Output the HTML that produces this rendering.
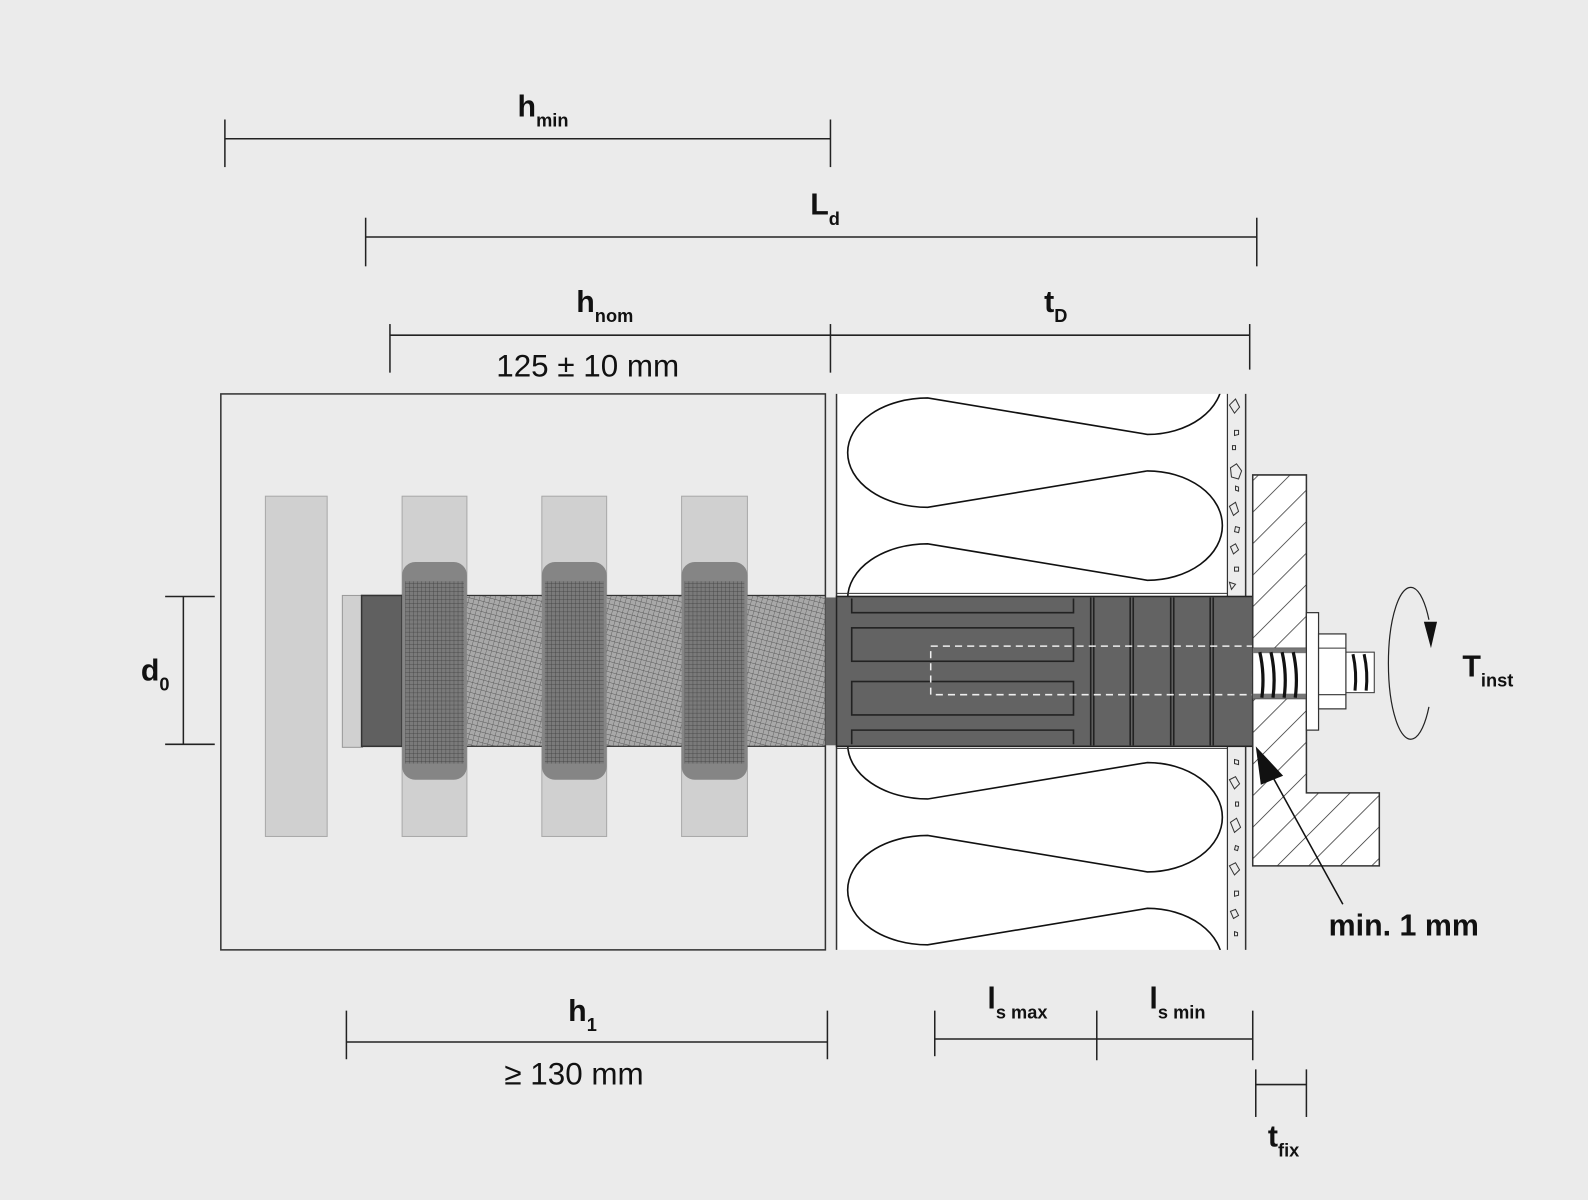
<!DOCTYPE html>
<html><head><meta charset="utf-8"><style>
html,body{margin:0;padding:0;background:#ebebeb;}
svg{display:block;}
text{font-family:"Liberation Sans Narrow","Liberation Sans",sans-serif;font-weight:bold;fill:#111;}
</style></head><body>
<svg width="1588" height="1200" viewBox="0 0 1568 1185" xmlns="http://www.w3.org/2000/svg">
<defs>
<pattern id="mesh" width="5" height="5" patternUnits="userSpaceOnUse" patternTransform="rotate(15)">
<rect width="5" height="5" fill="#a8a8a8"/><path d="M0 0H5M0 0V5" stroke="#555" stroke-width="0.8"/></pattern>
<pattern id="mesh2" width="4" height="4" patternUnits="userSpaceOnUse">
<rect width="4" height="4" fill="#7a7a7a"/><path d="M0 0H4M0 0V4" stroke="#3a3a3a" stroke-width="0.7"/></pattern>
<pattern id="hatch" width="22" height="22" patternUnits="userSpaceOnUse" patternTransform="rotate(45)">
<rect width="22" height="22" fill="#fff"/><path d="M0 0V22" stroke="#222" stroke-width="1.4"/></pattern>
<clipPath id="ins"><rect x="826" y="389" width="386" height="549"/></clipPath>
</defs>
<rect width="1568" height="1185" fill="#ebebeb"/>

<!-- concrete block -->
<rect x="218" y="389" width="597" height="549" fill="#ebebeb" stroke="#333" stroke-width="1.5"/>
<!-- insulation -->
<rect x="826" y="389" width="386" height="549" fill="#fff"/>
<line x1="826" y1="389" x2="826" y2="938" stroke="#333" stroke-width="1.5"/>
<g clip-path="url(#ins)" fill="none" stroke="#111" stroke-width="1.6">
<path d="M1133 321 A74 54 0 0 1 1133 429 L916 393 A79 54 0 0 0 916 501 L1133 465 A74 54 0 0 1 1133 573
L916 537 A79 54 0 0 0 916 645 L1133 609 A74 54 0 0 1 1133 717
L916 681 A79 54 0 0 0 916 789 L1133 753 A74 54 0 0 1 1133 861
L916 825 A79 54 0 0 0 916 933 L1133 897 A74 54 0 0 1 1133 1005"/>
</g>
<!-- plaster -->
<rect x="1212" y="389" width="18" height="549" fill="#ececec"/>
<line x1="1212" y1="389" x2="1212" y2="938" stroke="#333" stroke-width="1.2"/>
<line x1="1230" y1="389" x2="1230" y2="938" stroke="#333" stroke-width="1.5"/>
<g fill="none" stroke="#333" stroke-width="1">
<path d="M1214 400l6-6 4 8-5 6z"/><path d="M1219 425l4 0 0 4-4 1z"/><path d="M1217 440l3 0 0 4-3 0z"/>
<path d="M1215 462l6-4 5 7-3 8-7-2z"/><path d="M1220 480l3 1 0 4-3-1z"/><path d="M1214 500l6-4 3 9-5 4z"/>
<path d="M1220 520l4 1-1 5-4-1z"/><path d="M1215 540l5-3 3 6-5 4z"/><path d="M1219 560l4 0 0 4-4 0z"/>
<path d="M1214 575l6 2-4 5z"/>
<path d="M1219 750l4 1 0 4-4-1z"/><path d="M1214 770l6-3 4 7-5 5z"/><path d="M1220 792l3 0 0 4-3 0z"/>
<path d="M1215 812l6-4 4 9-6 5z"/><path d="M1220 835l3 1-1 4-3-1z"/><path d="M1214 855l6-3 4 7-5 5z"/>
<path d="M1219 880l4 0 0 4-4 1z"/><path d="M1215 900l5-2 3 6-5 3z"/><path d="M1219 920l3 1 0 3-3 0z"/>
</g>

<!-- rebars -->
<g fill="#d0d0d0" stroke="#a8a8a8" stroke-width="1">
<rect x="262" y="490" width="61" height="336"/>
<rect x="397" y="490" width="64" height="336"/>
<rect x="535" y="490" width="64" height="336"/>
<rect x="673" y="490" width="65" height="336"/>
</g>
<!-- hole, plug -->
<rect x="338" y="588" width="20" height="150" fill="#d0d0d0" stroke="#999"/>
<rect x="357" y="588" width="40" height="149" fill="#606060" stroke="#333" stroke-width="1.5"/>
<rect x="397" y="588" width="418" height="149" fill="url(#mesh)" stroke="#333" stroke-width="1.2"/>
<!-- bands -->
<g>
<rect x="397" y="555" width="64" height="215" rx="13" fill="#858585"/>
<rect x="400" y="574" width="58" height="180" fill="url(#mesh2)"/>
<rect x="535" y="555" width="64" height="215" rx="13" fill="#858585"/>
<rect x="538" y="574" width="58" height="180" fill="url(#mesh2)"/>
<rect x="673" y="555" width="65" height="215" rx="13" fill="#858585"/>
<rect x="676" y="574" width="59" height="180" fill="url(#mesh2)"/>
</g>
<rect x="815" y="590" width="11" height="146" fill="#636363"/>

<!-- sleeve in insulation -->
<line x1="826" y1="586" x2="1212" y2="586" stroke="#333"/>
<line x1="826" y1="739" x2="1212" y2="739" stroke="#333"/>
<rect x="826" y="589" width="411" height="148" fill="#636363" stroke="#222" stroke-width="1.5"/>
<g fill="none" stroke="#222" stroke-width="1.6">
<path d="M841 591V605H1060V591"/><rect x="841" y="620" width="219" height="33"/>
<rect x="841" y="673" width="219" height="33"/><path d="M841 735V721H1060V735"/>
<line x1="1077" y1="590" x2="1077" y2="736"/><line x1="1080" y1="590" x2="1080" y2="736"/>
<line x1="1116" y1="590" x2="1116" y2="736"/><line x1="1119" y1="590" x2="1119" y2="736"/>
<line x1="1156" y1="590" x2="1156" y2="736"/><line x1="1159" y1="590" x2="1159" y2="736"/>
<line x1="1195" y1="590" x2="1195" y2="736"/><line x1="1198" y1="590" x2="1198" y2="736"/>
</g>
<rect x="919" y="638" width="318" height="48" fill="none" stroke="#eee" stroke-width="1.5" stroke-dasharray="7,5"/>

<!-- bracket -->
<path d="M1237 469H1290V783H1362V855H1237Z" fill="url(#hatch)" stroke="#333" stroke-width="1.5"/>
<!-- screw -->
<rect x="1237" y="640" width="53" height="50" fill="#fff" stroke="#333"/>
<rect x="1237" y="640" width="53" height="5" fill="#777"/>
<rect x="1237" y="685" width="53" height="5" fill="#777"/>
<g fill="none" stroke="#111" stroke-width="3.2">
<path d="M1244 644q5 22 2 45"/><path d="M1255 644q5 22 2 45"/><path d="M1266 644q5 22 2 45"/><path d="M1277 644q5 22 2 45"/>
</g>
<rect x="1328" y="644" width="29" height="40" fill="#fff" stroke="#333"/>
<g fill="none" stroke="#111" stroke-width="3"><path d="M1336 646q4 18 2 36"/><path d="M1347 646q4 18 2 36"/></g>
<rect x="1290" y="605" width="12" height="116" fill="#fff" stroke="#333" stroke-width="1.2"/>
<rect x="1302" y="626" width="27" height="74" fill="#fff" stroke="#333" stroke-width="1.2"/>
<line x1="1302" y1="640" x2="1329" y2="640" stroke="#333"/><line x1="1302" y1="686" x2="1329" y2="686" stroke="#333"/>
<!-- rotation -->
<path d="M1411 698 A22 75 0 1 1 1411 612" fill="none" stroke="#222" stroke-width="1.2"/>
<path d="M1406 614L1419 614L1413 640Z" fill="#111"/>
<!-- min 1mm arrow -->
<line x1="1326" y1="893" x2="1250" y2="755" stroke="#111" stroke-width="1.5"/>
<path d="M1240 737L1267 766L1245 775Z" fill="#111"/>

<!-- dimension lines -->
<g stroke="#222" stroke-width="1.5">
<line x1="222" y1="137" x2="820" y2="137"/><line x1="222" y1="118" x2="222" y2="165"/><line x1="820" y1="118" x2="820" y2="165"/>
<line x1="361" y1="234" x2="1241" y2="234"/><line x1="361" y1="215" x2="361" y2="263"/><line x1="1241" y1="215" x2="1241" y2="263"/>
<line x1="385" y1="331" x2="1234" y2="331"/><line x1="385" y1="320" x2="385" y2="368"/><line x1="820" y1="320" x2="820" y2="368"/><line x1="1234" y1="320" x2="1234" y2="365"/>
<line x1="181" y1="589" x2="181" y2="735"/><line x1="163" y1="589" x2="212" y2="589"/><line x1="163" y1="735" x2="212" y2="735"/>
<line x1="342" y1="1029" x2="817" y2="1029"/><line x1="342" y1="998" x2="342" y2="1046"/><line x1="817" y1="998" x2="817" y2="1046"/>
<line x1="923" y1="1026" x2="1237" y2="1026"/><line x1="923" y1="998" x2="923" y2="1043"/><line x1="1083" y1="998" x2="1083" y2="1047"/><line x1="1237" y1="998" x2="1237" y2="1047"/>
<line x1="1240" y1="1071" x2="1290" y2="1071"/><line x1="1240" y1="1056" x2="1240" y2="1103"/><line x1="1290" y1="1056" x2="1290" y2="1103"/>
</g>

<!-- labels -->
<g font-size="30">
<text x="511" y="115">h<tspan font-size="18" dy="10">min</tspan></text>
<text x="800" y="212">L<tspan font-size="18" dy="10">d</tspan></text>
<text x="569" y="308">h<tspan font-size="18" dy="10">nom</tspan></text>
<text x="1031" y="308">t<tspan font-size="18" dy="10">D</tspan></text>
<text x="139" y="672">d<tspan font-size="18" dy="10">0</tspan></text>
<text x="561" y="1008">h<tspan font-size="18" dy="10">1</tspan></text>
<text x="975" y="996">l<tspan font-size="18" dy="10">s max</tspan></text>
<text x="1135" y="996">l<tspan font-size="18" dy="10">s min</tspan></text>
<text x="1252" y="1132">t<tspan font-size="18" dy="10">fix</tspan></text>
<text x="1444" y="668">T<tspan font-size="18" dy="10">inst</tspan></text>
<text x="1312" y="924">min. 1 mm</text>
</g>
<g font-size="31">
<text x="490" y="372" style="font-weight:normal">125 ± 10 mm</text>
<text x="498" y="1071" style="font-weight:normal">≥ 130 mm</text>
</g>
</svg>
</body></html>
